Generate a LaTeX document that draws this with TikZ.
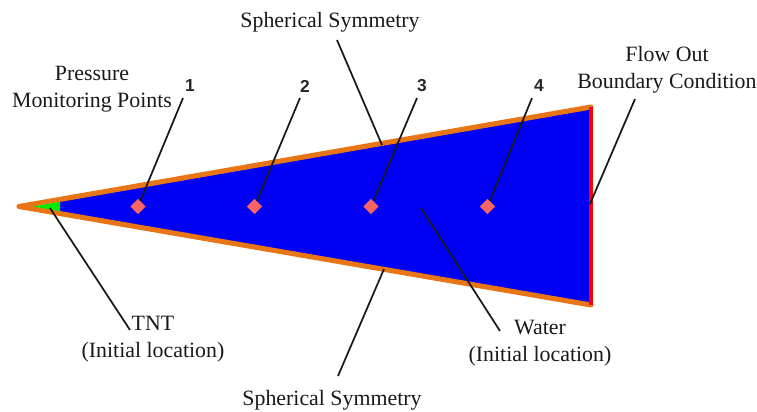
\documentclass[tikz,border=0pt]{standalone}
\usepackage{fontspec}
\setmainfont{Liberation Serif}
\newfontfamily\digitfont{Liberation Sans}
\definecolor{wedgeblue}{RGB}{0,0,245}
\definecolor{edgeorange}{RGB}{232,118,22}
\definecolor{tntgreen}{RGB}{0,235,0}
\definecolor{probe}{RGB}{250,100,100}
\definecolor{outred}{RGB}{250,0,0}
\usetikzlibrary{shapes.geometric}
\tikzset{
  lab/.style={font=\fontsize{16.4}{20.5}\selectfont, align=center, inner sep=0pt, text=black!90},
  num/.style={font=\digitfont\bfseries\fontsize{13}{13}\selectfont, inner sep=0pt, text=black!85},
  lead/.style={draw=black!90, line width=1.3pt},
  wall/.style={draw=edgeorange, line width=3.8pt, line cap=round, line join=round},
  pt/.style={diamond, fill=probe, minimum size=11.5pt, inner sep=0pt}
}
\begin{document}
\begin{tikzpicture}[x=0.75pt,y=-0.75pt]
\useasboundingbox (0,0) rectangle (757,411);
\coordinate (apex) at (19,206.5);
\coordinate (tr) at (591,107);
\coordinate (br) at (591,305);
\fill[wedgeblue] (60,199.4) -- (tr) -- (br) -- (60,213.6) -- cycle;
\draw[wall] (tr) -- (apex) -- (br);
\fill[tntgreen] (33,206.5) -- (60,201.8) -- (60,211.2) -- cycle;
\draw[draw=outred, line width=3.2pt] (tr) -- (br);
\node[pt] (p1) at (138,206.5) {};
\node[pt] (p2) at (254.5,206.5) {};
\node[pt] (p3) at (371,206.5) {};
\node[pt] (p4) at (487.5,206.5) {};
\node[num] (n1) at (190,86) {1};
\node[num] (n2) at (305,86) {2};
\node[num] (n3) at (422,86) {3};
\node[num] (n4) at (539,86) {4};
\coordinate (n1e) at (183,98);
\coordinate (n2e) at (300,98);
\coordinate (n3e) at (417,98);
\coordinate (n4e) at (532,98);
\draw[lead] (n1e) -- (p1);
\draw[lead] (n2e) -- (p2);
\draw[lead] (n3e) -- (p3);
\draw[lead] (n4e) -- (p4);
\node[lab] (top) at (330,22) {Spherical Symmetry};
\node[lab] (bot) at (332,400) {Spherical Symmetry};
\node[lab] (pmp) at (92,89) {Pressure\\Monitoring Points};
\node[lab] (flow) at (667,70) {Flow Out\\Boundary Condition};
\node[lab] (tnt) at (153,339) {TNT\\(Initial location)};
\node[lab] (water) at (540,343) {Water\\(Initial location)};
\coordinate (topa) at (337,40);
\coordinate (topb) at (382,145);
\coordinate (bota) at (338,376);
\coordinate (botb) at (384,269);
\coordinate (flowa) at (635,99);
\coordinate (flowb) at (590,204);
\coordinate (tnta) at (130,330);
\coordinate (tntb) at (50,208);
\coordinate (wata) at (500,331);
\coordinate (watb) at (421,208);
\draw[lead] (topa) -- (topb);
\draw[lead] (bota) -- (botb);
\draw[lead] (flowa) -- (flowb);
\draw[lead] (tnta) -- (tntb);
\draw[lead] (wata) -- (watb);
\end{tikzpicture}
\end{document}
